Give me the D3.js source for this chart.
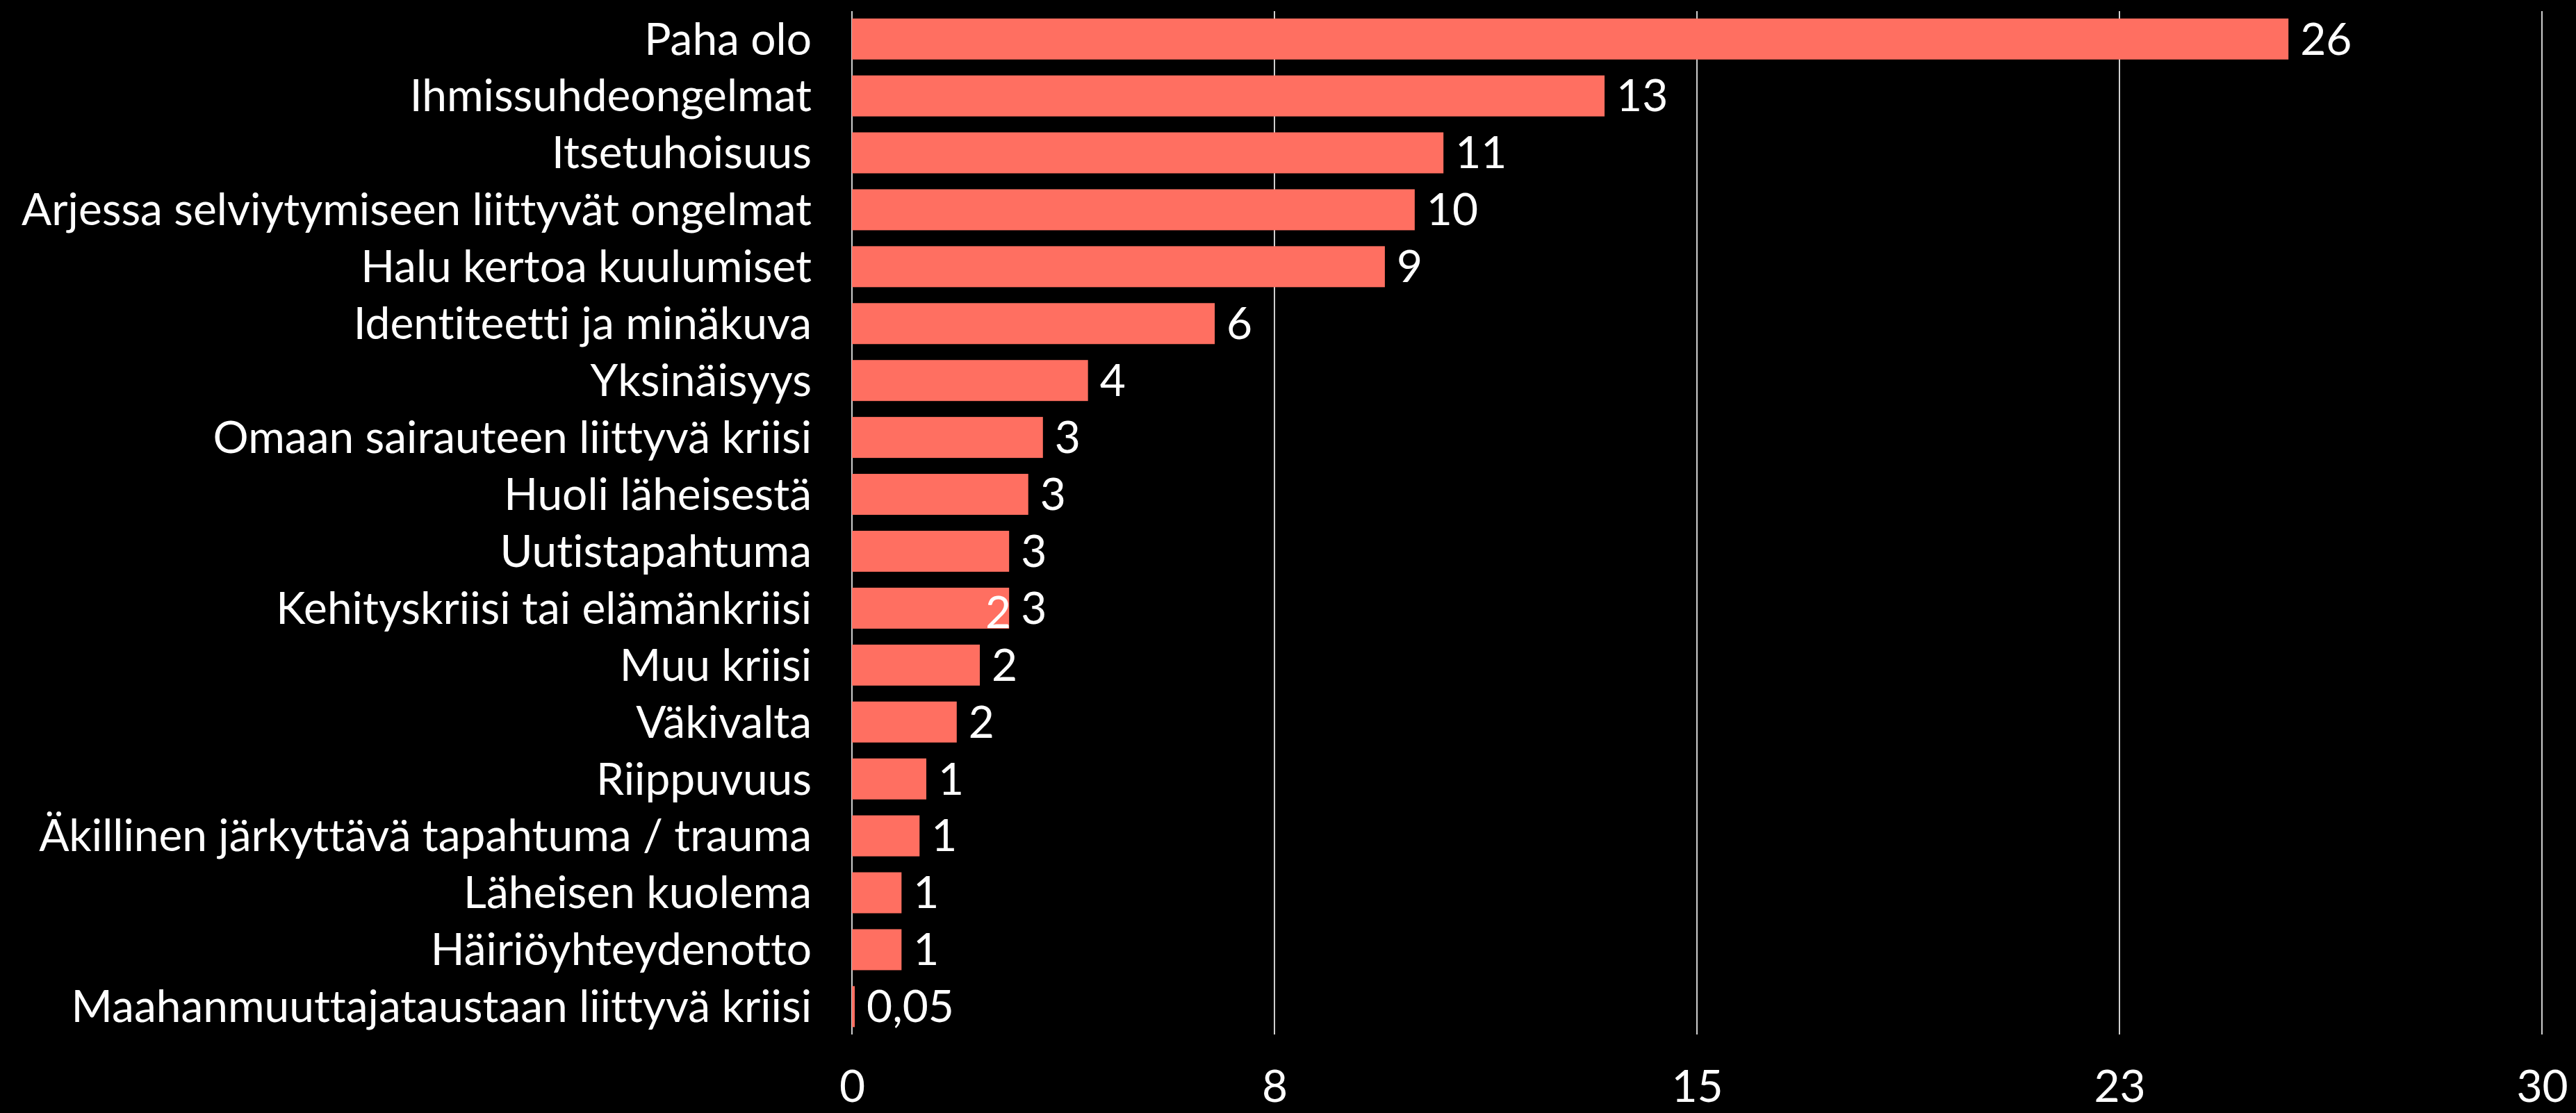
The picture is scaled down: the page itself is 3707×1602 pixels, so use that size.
<!DOCTYPE html>
<html lang="fi">
<head>
    <meta charset="UTF-8">
    <title>Yhteydenottojen aiheet</title>
    <script src="https://d3js.org/d3.v7.min.js"></script>
    <style>
        body {
            margin: 0;
            background: #000;
            font-family: Lato, "Open Sans", sans-serif;
        }
        text {
            font-variant-ligatures: none;
        }
    </style>
</head>
<body>
<div id="chart"></div>
<script>
    // categories top to bottom
    var categories = [
        'Paha olo',
        'Ihmissuhdeongelmat',
        'Itsetuhoisuus',
        'Arjessa selviytymiseen liittyvät ongelmat',
        'Halu kertoa kuulumiset',
        'Identiteetti ja minäkuva',
        'Yksinäisyys',
        'Omaan sairauteen liittyvä kriisi',
        'Huoli läheisestä',
        'Uutistapahtuma',
        'Kehityskriisi tai elämänkriisi',
        'Muu kriisi',
        'Väkivalta',
        'Riippuvuus',
        'Äkillinen järkyttävä tapahtuma / trauma',
        'Läheisen kuolema',
        'Häiriöyhteydenotto',
        'Maahanmuuttajataustaan liittyvä kriisi'
    ];
    // bar lengths
    var values = [25.5, 13.36, 10.5, 9.99, 9.46, 6.44, 4.19, 3.39, 3.13, 2.79, 2.79, 2.27, 1.86, 1.32, 1.2, 0.88, 0.88, 0.05];
    // labels as printed next to bars
    var valueLabels = ['26', '13', '11', '10', '9', '6', '4', '3', '3', '3', '3', '2', '2', '1', '1', '1', '1', '0,05'];
    // the stray label drawn inside one bar
    var strayLabels = [{category: 'Kehityskriisi tai elämänkriisi', text: '2'}];
    var xTicks = [0, 7.5, 15, 22.5, 30];
    var xTickLabels = ['0', '8', '15', '23', '30'];

    var w = 3707, h = 1602;
    var m = {top: 16, left: 1226, right: 49, bottom: 113};

    var svg = d3.select('#chart').append('svg')
        .attr('width', w)
        .attr('height', h)
        .style('display', 'block')
        .style('background', '#000');

    var x = d3.scaleLinear()
        .domain([0, 30])
        .range([m.left, w - m.right]);

    var y = d3.scaleBand()
        .domain(categories)
        .range([m.top, h - m.bottom])
        .paddingInner(0.28)
        .paddingOuter(0.13);

    // gridlines
    svg.append('g').selectAll('line')
        .data(xTicks)
        .enter().append('line')
        .attr('x1', function(d){ return x(d); })
        .attr('x2', function(d){ return x(d); })
        .attr('y1', m.top)
        .attr('y2', h - m.bottom)
        .attr('stroke', '#cfcfcf')
        .attr('stroke-width', 2);

    var rows = categories.map(function(c, i){
        return {cat: c, val: values[i], label: valueLabels[i]};
    });

    // bars
    svg.append('g').selectAll('rect')
        .data(rows)
        .enter().append('rect')
        .attr('x', x(0))
        .attr('y', function(d){ return y(d.cat); })
        .attr('width', function(d){ return x(d.val) - x(0); })
        .attr('height', y.bandwidth())
        .attr('fill', '#ff6f61');

    var fs = 64;

    // category labels
    svg.append('g').selectAll('text')
        .data(rows)
        .enter().append('text')
        .attr('x', 1168)
        .attr('y', function(d){ return y(d.cat) + y.bandwidth() / 2; })
        .attr('dy', '0.35em')
        .attr('text-anchor', 'end')
        .attr('fill', '#fff')
        .style('font-size', fs + 'px')
        .text(function(d){ return d.cat; });

    // value labels
    svg.append('g').selectAll('text')
        .data(rows)
        .enter().append('text')
        .attr('x', function(d){ return x(d.val) + 17; })
        .attr('y', function(d){ return y(d.cat) + y.bandwidth() / 2; })
        .attr('dy', '0.35em')
        .attr('fill', '#fff')
        .style('font-size', fs + 'px')
        .text(function(d){ return d.label; });

    svg.append('g').selectAll('text')
        .data(strayLabels)
        .enter().append('text')
        .attr('x', function(d){ return x(values[categories.indexOf(d.category)]) + 3; })
        .attr('y', function(d){ return y(d.category) + y.bandwidth() / 2 + 6; })
        .attr('dy', '0.35em')
        .attr('text-anchor', 'end')
        .attr('fill', '#fff')
        .style('font-size', fs + 'px')
        .text(function(d){ return d.text; });

    // x axis labels
    var xAxis = d3.axisBottom(x)
        .tickValues(xTicks)
        .tickFormat(function(d, i){ return xTickLabels[i]; })
        .tickSize(0)
        .tickPadding(0);

    var gx = svg.append('g')
        .attr('transform', 'translate(0,' + 1564 + ')')
        .call(xAxis);
    gx.select('.domain').remove();
    gx.selectAll('text')
        .attr('y', 0)
        .attr('dy', '0.35em')
        .attr('fill', '#fff')
        .style('font-family', 'Lato, "Open Sans", sans-serif')
        .style('font-size', fs + 'px');
</script>
</body>
</html>
